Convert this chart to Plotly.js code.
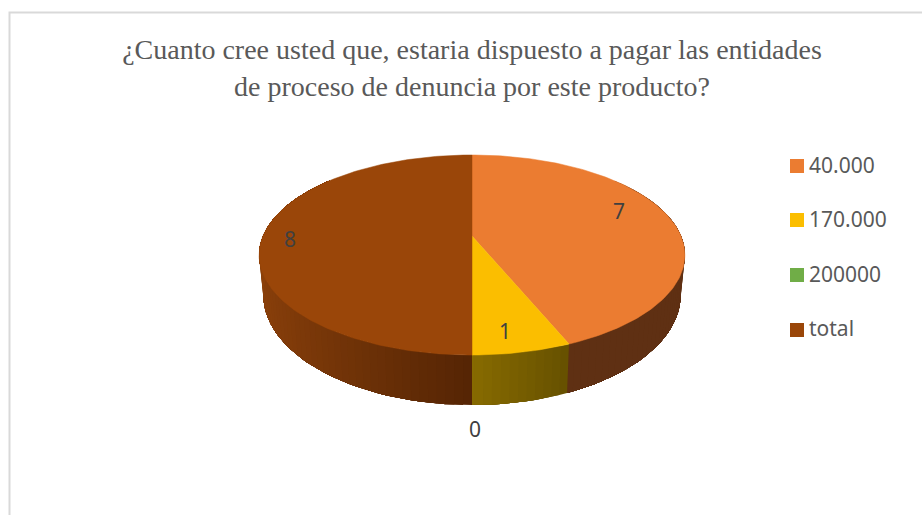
<!DOCTYPE html>
<html>
<head>
<meta charset="utf-8">
<script src="https://cdn.plot.ly/plotly-3.0.1.min.js"></script>
<style>html,body{margin:0;padding:0;background:#fff}#chart{width:922px;height:515px}</style>
</head>
<body>
<div id="chart"></div>
<script>
// Data
const categories = ['40.000', '170.000', '200000', 'total'];
const values = [7, 1, 0, 8];
const topColors = ['#EB7C31', '#FBBE00', '#70AD47', '#9A4609'];
const sideColorsInner = [[95,48,19], [135,107,0], [70,110,40], [85,37,4]];
const sideColorsOuter = [[95,48,19], [49,37,0], [70,110,40], [140,65,11]];
const labelShiftX = [7, 0, 3, -36];
const labelShiftY = [-12, 19, 115, 3];
const title = '¿Cuanto cree usted que, estaria dispuesto a pagar las entidades<br>de proceso de denuncia por este producto?';

// Perspective projection of the pie disc onto the page
const CX = 472, CY = 236, RX = 209, RY = 96.4, PERSP = -0.19;
function project(deg, r) {
  const t = deg * Math.PI / 180, u = Math.sin(t) * r, v = -Math.cos(t) * r;
  const d = 1 + PERSP * v;
  return [CX + RX * u / d, CY + RY * v / d];
}
function bottom(p) {
  return [CX + (p[0] - CX) * 0.98, p[1] + 50 - 0.1 * (CY + 119 - p[1])];
}
const total = values.reduce((a, b) => a + b, 0);
const traces = [];
let start = 0;
const spans = values.map(v => { const s = [start, start + v / total * 360]; start = s[1]; return s; });

// Side wall (drawn first, the top face covers the back part).
// Each band runs to the end of the slice and the next band paints over it, so no seams show.
function lerpColor(a, b, f) { return 'rgb(' + a.map((c, i) => Math.round(c + (b[i] - c) * f)).join(',') + ')'; }
function pushBand(a, to, col) {
  const tops = [], bots = [];
  for (let d = a; ; d += 2) {
    const p = project(Math.min(d, to), 1);
    tops.push(p); bots.push(bottom(p));
    if (d >= to) break;
  }
  const ring = tops.concat(bots.reverse());
  ring.push(ring[0]);
  traces.push({type:'scatter', mode:'lines', x:ring.map(p => p[0]), y:ring.map(p => p[1]),
    fill:'toself', fillcolor:col, line:{width:0}, hoverinfo:'skip', showlegend:false});
}
const sideFrom = 50, sideTo = 310;
spans.forEach((s, i) => {
  if (s[1] <= s[0]) return;
  const lo = Math.max(s[0], sideFrom), hi = Math.min(s[1], sideTo);
  for (let a = lo; a < hi; a += 2) {
    const mid = a + 1;
    const col = lerpColor(sideColorsInner[i], sideColorsOuter[i], Math.abs(Math.sin(mid * Math.PI / 180)));
    pushBand(a, hi, col);
  }
});

// Top face
spans.forEach((s, i) => {
  if (s[1] <= s[0]) return;
  const xs = [CX], ys = [CY];
  for (let a = s[0]; ; a += 1) {
    const p = project(Math.min(a, s[1]), 1);
    xs.push(p[0]); ys.push(p[1]);
    if (a >= s[1]) break;
  }
  xs.push(CX); ys.push(CY);
  traces.push({type:'scatter', mode:'lines', x:xs, y:ys, fill:'toself', fillcolor:topColors[i],
    line:{color:topColors[i], width:0.5}, name:categories[i], hoverinfo:'name', showlegend:false});
});

// Legend keys and names
const legendX = 797, legendTextX = 809, legendY = [166, 220, 275, 330], legendTextY = [167.5, 221.5, 276.5, 330.5];
traces.push({type:'scatter', mode:'markers', x:categories.map(() => legendX), y:legendY,
  marker:{symbol:'square', size:14, color:topColors}, hoverinfo:'skip', showlegend:false});
traces.push({type:'scatter', mode:'text', x:categories.map(() => legendTextX), y:legendTextY,
  text:categories, textposition:'middle right',
  textfont:{family:'Noto Sans, sans-serif', size:21, color:'#595959'}, hoverinfo:'skip', showlegend:false});

// Data labels, anchored to each slice
const annotations = values.map((v, i) => {
  const p = project((spans[i][0] + spans[i][1]) / 2, 0.7);
  return {x:p[0], y:p[1], xref:'x', yref:'y', text:String(v), showarrow:false, xshift:labelShiftX[i], yshift:-labelShiftY[i],
    font:{family:'Noto Sans, sans-serif', size:21, color:'#404040'}};
});

const frame = {type:'path', xref:'x', yref:'y', path:'M 922 12.5 L 9.5 12.5 L 9.5 515', line:{color:'#D9D9D9', width:2}};

const layout = {
  width:922, height:515, margin:{l:0,r:0,t:0,b:0}, paper_bgcolor:'#fff', plot_bgcolor:'#fff', showlegend:false,
  title:{text:title, x:472/922, xanchor:'center', y:0.885, yanchor:'bottom', font:{family:'Liberation Serif, serif', size:28, color:'#595959'}},
  xaxis:{range:[0,922], visible:false, fixedrange:true},
  yaxis:{range:[515,0], visible:false, fixedrange:true},
  annotations:annotations, shapes:[frame]
};
Plotly.newPlot('chart', traces, layout, {displayModeBar:false, staticPlot:true});
</script>
</body>
</html>
